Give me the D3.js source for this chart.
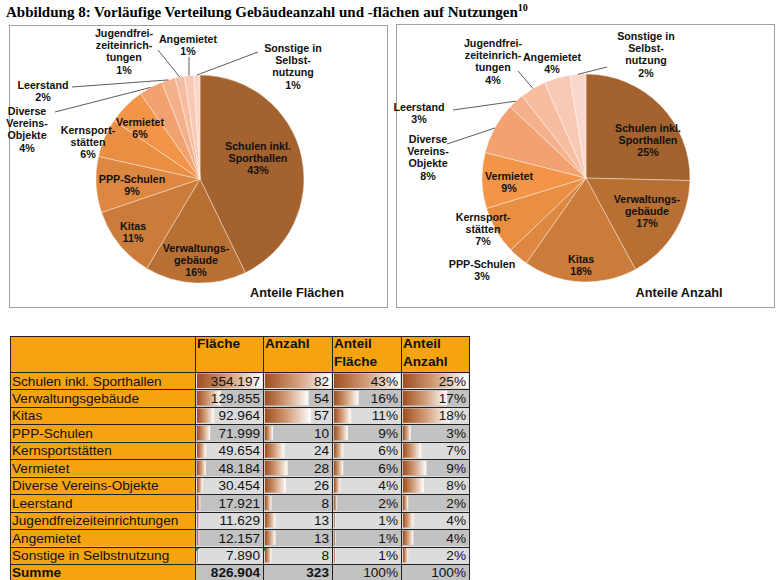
<!DOCTYPE html>
<html><head><meta charset="utf-8">
<script src="https://cdn.jsdelivr.net/npm/d3@7"></script>
<style>body{margin:0;background:#fff;} svg{display:block;}</style>
</head><body><svg id="c" width="781" height="580"></svg>
<script>
// ---------- DATA ----------
const categories = ["Schulen inkl. Sporthallen","Verwaltungsgebäude","Kitas","PPP-Schulen","Kernsportstätten","Vermietet","Diverse Vereins-Objekte","Leerstand","Jugendfreizeiteinrichtungen","Angemietet","Sonstige in Selbstnutzung"];
const pieNames = [["Schulen inkl.","Sporthallen"],["Verwaltungs-","gebäude"],["Kitas"],["PPP-Schulen"],["Kernsport-","stätten"],["Vermietet"],["Diverse","Vereins-","Objekte"],["Leerstand"],["Jugendfrei-","zeiteinrich-","tungen"],["Angemietet"],["Sonstige in","Selbst-","nutzung"]];
const flaeche = [354197,129855,92964,71999,49654,48184,30454,17921,11629,12157,7890];
const anzahl = [82,54,57,10,24,28,26,8,13,13,8];
const anteilFlaeche = [43,16,11,9,6,6,4,2,1,1,1];
const anteilAnzahl = [25,17,18,3,7,9,8,2,4,4,2];
const pieLabelFlaeche = [43,16,11,9,6,6,4,2,1,1,1];
const pieLabelAnzahl = [25,17,18,3,7,9,8,3,4,4,2];
const headers = [["Fläche"],["Anzahl"],["Anteil","Fläche"],["Anteil","Anzahl"]];
const sliceColors = ["#A3622E","#B86F33","#CC7C3A","#DE8741","#E98F44","#F39549","#F2A271","#F4B08A","#F6BDA0","#F8CAB5","#FAD7CA"];

// ---------- LAYOUT (styling only) ----------
const leftLayout = {
  cx:200, cy:179, r:104, title:"Anteile Flächen", tx:297, ty:297,
  labels:[[58,-33],[-4,69],[-67,47],[-68,0],[-112,-49],[-60,-57],[-173,-68],[-157,-94],[-76,-146],[-12,-140],[93,-131]],
  leaders:[null,null,null,null,null,null,[-145,-67],[-128,-92],[-42,-129],[-11,-122],[58,-127]]
};
const rightLayout = {
  cx:586, cy:178, r:104, title:"Anteile Anzahl", tx:679, ty:297,
  labels:[[62,-50],[61,21],[-5,81],[-104,86],[-103,39],[-77,-2],[-158,-39],[-167,-71],[-93,-135],[-34,-121],[60,-142]],
  leaders:[null,null,null,null,null,null,[-139,-34],[-133,-68],[-68,-107],null,[21,-111]]
};

const svg = d3.select("#c");
const locale = d3.formatLocale({decimal:",", thousands:".", grouping:[3], currency:["","€"]});
const fmt = locale.format(",d");

// Title
const title = svg.append("text").attr("x",6).attr("y",17)
  .style("font-family","'Liberation Serif','Times New Roman',serif").style("font-weight","bold").style("font-size","15px")
  .text("Abbildung 8: Vorläufige Verteilung Gebäudeanzahl und -flächen auf Nutzungen");
title.append("tspan").attr("dy",-6).style("font-size","10px").text("10");

// Panels
svg.append("rect").attr("x",9.5).attr("y",25.5).attr("width",378).attr("height",282).attr("fill","none").attr("stroke","#a0a0a0");
svg.append("rect").attr("x",396.5).attr("y",24.5).attr("width",378).attr("height",283).attr("fill","none").attr("stroke","#a0a0a0");

function drawPie(values, pctLabels, L){
  const g = svg.append("g").attr("transform",`translate(${L.cx},${L.cy})`);
  const pie = d3.pie().sort(null).value(d=>d)(values);
  const arc = d3.arc().innerRadius(0).outerRadius(L.r);
  const edge = d3.arc().innerRadius(L.r).outerRadius(L.r);
  g.selectAll("path.s").data(pie).join("path").attr("class","s")
    .attr("d",arc).attr("fill",(d,i)=>sliceColors[i])
    .attr("stroke","rgba(255,255,255,0.55)").attr("stroke-width",0.7);
  pie.forEach((d,i)=>{
    const le = L.leaders[i]; if(!le) return;
    const p = edge.centroid(d);
    g.append("line").attr("x1",p[0]).attr("y1",p[1]).attr("x2",le[0]).attr("y2",le[1])
      .attr("stroke","#333").attr("stroke-width",0.8);
  });
  pie.forEach((d,i)=>{
    const lines = pieNames[i].concat([pctLabels[i]+"%"]);
    const [lx,ly] = L.labels[i];
    const t = g.append("text").attr("text-anchor","middle")
      .style("font-family","'Liberation Sans',Arial,Helvetica,sans-serif").style("font-weight","bold").style("font-size","10.7px").attr("fill","#111");
    lines.forEach((s,k)=>t.append("tspan").attr("x",lx).attr("y",ly+4+k*12.2).text(s));
  });
  svg.append("text").attr("x",L.tx).attr("y",L.ty).attr("text-anchor","middle")
    .style("font-family","'Liberation Sans',Arial,Helvetica,sans-serif").style("font-weight","bold").style("font-size","12.7px")
    .attr("fill","#111").text(L.title);
}
drawPie(flaeche, pieLabelFlaeche, leftLayout);
drawPie(anzahl, pieLabelAnzahl, rightLayout);

// ---------- TABLE ----------
const defs = svg.append("defs");
const grad = defs.append("linearGradient").attr("id","barGrad").attr("x1","0").attr("x2","1").attr("y1","0").attr("y2","0");
grad.append("stop").attr("offset","0").attr("stop-color","#A04E1E");
grad.append("stop").attr("offset","0.5").attr("stop-color","#D3A07C");
grad.append("stop").attr("offset","1").attr("stop-color","#FFFFFF");

const colX = [10,195,263,332,401,469];
const headTop = 336, headH = 36, rowTop0 = 372, rowH = 17.45;
const orange = "#F5A30F";
const font = "'Liberation Sans',Arial,Helvetica,sans-serif";
const tbl = svg.append("g");
const rowY = i => rowTop0 + i*rowH;

tbl.append("rect").attr("x",colX[0]).attr("y",headTop).attr("width",colX[5]-colX[0]).attr("height",headH).attr("fill",orange);
headers.forEach((h,j)=>{
  const t = tbl.append("text").style("font-family",font).style("font-weight","bold").style("font-size","13.6px").attr("fill","#111");
  h.forEach((s,k)=>t.append("tspan").attr("x",colX[j+1]+2).attr("y",headTop+12+k*18).text(s));
});

const columns = [
  {vals:flaeche, text:flaeche.map(fmt)},
  {vals:anzahl, text:anzahl.map(fmt)},
  {vals:anteilFlaeche, text:anteilFlaeche.map(v=>v+"%")},
  {vals:anteilAnzahl, text:anteilAnzahl.map(v=>v+"%")}
];
const sums = [fmt(d3.sum(flaeche)), fmt(d3.sum(anzahl)), "100%", "100%"];

categories.forEach((c,i)=>{
  const y = rowY(i);
  tbl.append("rect").attr("x",colX[0]).attr("y",y).attr("width",colX[1]-colX[0]).attr("height",rowH).attr("fill",orange);
  tbl.append("text").attr("x",colX[0]+2).attr("y",y+13.5).style("font-family",font).style("font-size","13.6px").attr("fill","#111").text(c);
  columns.forEach((col,j)=>{
    const x0 = colX[j+1], w = colX[j+2]-x0;
    tbl.append("rect").attr("x",x0).attr("y",y).attr("width",w).attr("height",rowH).attr("fill", i%2===0 ? "#DCDCDC" : "#C2C2C2");
    const sx = d3.scaleLinear().domain([0,d3.max(col.vals)]).range([0,w-3]);
    tbl.append("rect").attr("x",x0+2).attr("y",y+1.5).attr("width",sx(col.vals[i])).attr("height",rowH-3).attr("fill","url(#barGrad)");
    tbl.append("text").attr("x",colX[j+2]-3).attr("y",y+13.5).attr("text-anchor","end")
      .style("font-family",font).style("font-size","13.6px").attr("fill","#111").text(col.text[i]);
  });
});
[1,2].forEach(j=>{
  const y = rowY(categories.length-1), x = colX[j];
  tbl.append("path").attr("d",`M${x+1},${y+1}L${x+5},${y+1}L${x+1},${y+5}Z`).attr("fill","#1E8C2E");
});
{
  const i = categories.length, y = rowY(i);
  tbl.append("rect").attr("x",colX[0]).attr("y",y).attr("width",colX[1]-colX[0]).attr("height",rowH).attr("fill",orange);
  tbl.append("text").attr("x",colX[0]+2).attr("y",y+13.5).style("font-family",font).style("font-weight","bold").style("font-size","13.6px").attr("fill","#111").text("Summe");
  sums.forEach((s,j)=>{
    const x0 = colX[j+1], w = colX[j+2]-x0;
    tbl.append("rect").attr("x",x0).attr("y",y).attr("width",w).attr("height",rowH).attr("fill","#C2C2C2");
    tbl.append("text").attr("x",colX[j+2]-3).attr("y",y+13.5).attr("text-anchor","end")
      .style("font-family",font).style("font-weight", j<2?"bold":"normal").style("font-size","13.6px").attr("fill","#111").text(s);
  });
}
const nRows = categories.length+1;
const yEnd = rowY(nRows);
const grid = tbl.append("g").attr("stroke","#222").attr("stroke-width",1);
colX.forEach(x=>grid.append("line").attr("x1",x+0.5).attr("x2",x+0.5).attr("y1",headTop).attr("y2",yEnd));
grid.append("line").attr("x1",colX[0]).attr("x2",colX[5]+1).attr("y1",headTop+0.5).attr("y2",headTop+0.5);
d3.range(nRows+1).forEach(i=>{
  const y = Math.round(rowY(i))+0.5;
  grid.append("line").attr("x1",colX[0]).attr("x2",colX[5]+1).attr("y1",y).attr("y2",y);
});
</script></body></html>
